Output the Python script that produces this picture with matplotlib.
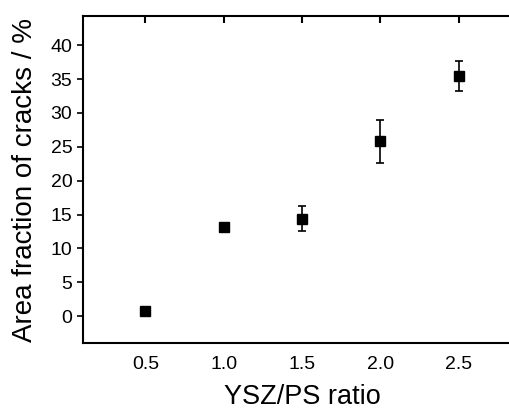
import matplotlib
matplotlib.use("Agg")
import matplotlib.pyplot as plt

# values
ratio = [0.5, 1.0, 1.5, 2.0, 2.5]
crack_area = [0.8, 13.1, 14.4, 25.8, 35.5]
crack_err = [0.3, 0.4, 1.8, 3.2, 2.2]
y_ticks = [0, 5, 10, 15, 20, 25, 30, 35, 40]
x_ticks = [0.5, 1.0, 1.5, 2.0, 2.5]

plt.rcParams["font.family"] = ["Liberation Sans", "DejaVu Sans"]

fig = plt.figure(figsize=(5.09, 4.11), dpi=100)
ax = fig.add_axes([0.1625, 0.1647, 0.862, 0.7964])

ax.errorbar(ratio, crack_area, yerr=crack_err, fmt="s", color="black",
            markersize=7.5, elinewidth=1.2, capsize=3, capthick=1.2)

ax.set_xlim(0.1, 2.9)
ax.set_ylim(-4, 44.3)
ax.set_xticks(x_ticks)
ax.set_xticklabels([f"{v:.1f}" for v in x_ticks])
ax.set_yticks(y_ticks)

for sp in ax.spines.values():
    sp.set_linewidth(1.5)

ax.tick_params(axis="x", bottom=False, top=True, labelbottom=True,
               direction="in", length=5, width=1.5, pad=9, labelsize=14)
ax.tick_params(axis="y", direction="out", length=4.5, width=1.2,
               pad=3, labelsize=14)

ax.set_xlabel("YSZ/PS ratio", fontsize=19.5, va="center")
ax.set_ylabel("Area fraction of cracks / %", fontsize=20, va="center")
ax.xaxis.set_label_coords(0.5, -0.163)
ax.yaxis.set_label_coords(-0.1315, 0.5)

fig.savefig("out.png", dpi=100)
